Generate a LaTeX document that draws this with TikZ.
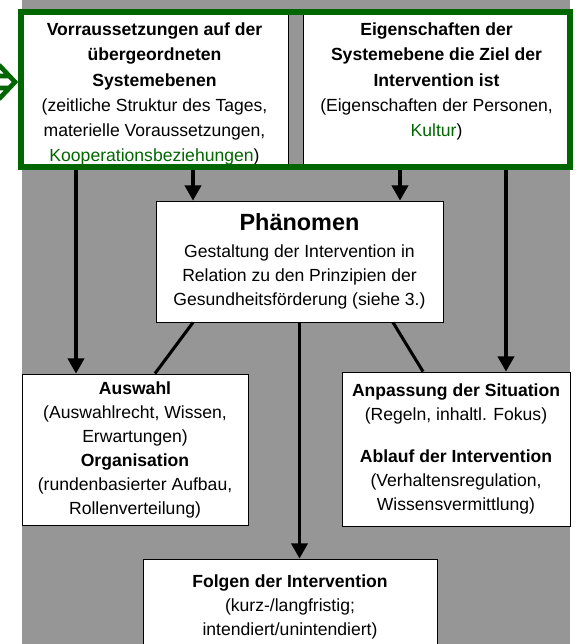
\documentclass[tikz,border=0pt]{standalone}
\usepackage{fontspec}
\setmainfont{Liberation Sans}
\usepackage{tikz}
\usetikzlibrary{arrows.meta, calc, positioning}
\definecolor{gray}{RGB}{150,150,150}
\definecolor{green}{RGB}{0,102,0}

\begin{document}
    \begin{tikzpicture}[x=0.03cm, y=-0.03cm, every node/.style={font=\fontsize{15}{20.5}\selectfont, align=center},
        box/.style={draw=black, line width=0.8pt, fill=white, inner sep=0pt},
        pfeil/.style={line width=2.6pt, -{Triangle[length=13pt, width=14pt]}},
        linie/.style={line width=2.6pt}]
        \clip (0,0) rectangle (578,644);
        \fill[gray] (22,0) rectangle (570,644);

        \node[box, minimum width=8.01cm, minimum height=4.65cm] (links) at (154.5,89.5) {};
        \node[anchor=north, inner ysep=9.5pt, font=\fontsize{15}{21.5}\selectfont] (linkstext) at (links.north) {\textbf{Vorraussetzungen auf der}\\ \textbf{übergeordneten}\\ \textbf{Systemebenen}\\ (zeitliche Struktur des Tages,\\ materielle Voraussetzungen,\\ \textcolor{green}{Kooperationsbeziehungen})};
        \node[box, minimum width=8.01cm, minimum height=4.65cm] (rechts) at (436.5,89.5) {};
        \node[anchor=north, inner ysep=9.5pt, font=\fontsize{15}{21.5}\selectfont] (rechtstext) at (rechts.north) {\textbf{Eigenschaften der}\\ \textbf{Systemebene die Ziel der}\\ \textbf{Intervention ist}\\ (Eigenschaften der Personen,\\ \textcolor{green}{Kultur})};
        \node[draw=green, line width=0.18cm, minimum width=16.47cm, minimum height=4.65cm, inner sep=0pt] (rahmen) at (295.5,89.5) {};

        \node[box, minimum width=8.61cm, minimum height=3.63cm] (phaen) at (299.5,261.5) {{\fontsize{20}{24}\selectfont\bfseries Phänomen}\\[2pt] Gestaltung der Intervention in\\ Relation zu den Prinzipien der\\ Gesundheitsförderung (siehe 3.)};
        \node[box, minimum width=6.78cm, minimum height=4.53cm] (auswahl) at (135,449.5) {\textbf{Auswahl}\\ (Auswahlrecht, Wissen,\\ Erwartungen)\\ \textbf{Organisation}\\ (rundenbasierter Aufbau,\\ Rollenverteilung)};
        \node[box, minimum width=6.84cm, minimum height=4.62cm] (anpass) at (456,449) {\textbf{Anpassung der Situation}\\ (Regeln, inhaltl. Fokus)\\[15pt] \textbf{Ablauf der Intervention}\\ (Verhaltensregulation,\\ Wissensvermittlung)};
        \node[box, minimum width=8.82cm, minimum height=2.85cm] (folgen) at (290,606.5) {\textbf{Folgen der Intervention}\\ (kurz-/langfristig;\\ intendiert/unintendiert)};

        \coordinate (c1) at (76,0);
        \coordinate (c2) at (193,0);
        \coordinate (c3) at (400,0);
        \coordinate (c4) at (506,0);
        \coordinate (c5) at (155,0);
        \coordinate (c6) at (393,0);
        \coordinate (c7) at (423,0);
        \draw[pfeil] (rahmen.south -| c2) -- (phaen.north -| c2);
        \draw[pfeil] (rahmen.south -| c3) -- (phaen.north -| c3);
        \draw[pfeil] (rahmen.south -| c1) -- (auswahl.north -| c1);
        \draw[pfeil] (rahmen.south -| c4) -- (anpass.north -| c4);
        \draw[linie] (phaen.south -| c2) -- (auswahl.north -| c5);
        \draw[linie] (phaen.south -| c6) -- (anpass.north -| c7);
        \draw[pfeil] (phaen.south) -- (phaen.south |- folgen.north);

        \coordinate (g) at (-20,82);
        \coordinate (spitze) at (g -| rahmen.west);
        \draw[green, line width=4pt, line join=miter] ([shift={(-19,-17)}]spitze) -- ([shift={(-3,0)}]spitze) -- ([shift={(-19,17)}]spitze)
            ([shift={(-30,-6)}]spitze) -- ([shift={(-8,-6)}]spitze)
            ([shift={(-30,6)}]spitze) -- ([shift={(-8,6)}]spitze);
    \end{tikzpicture}
\end{document}
